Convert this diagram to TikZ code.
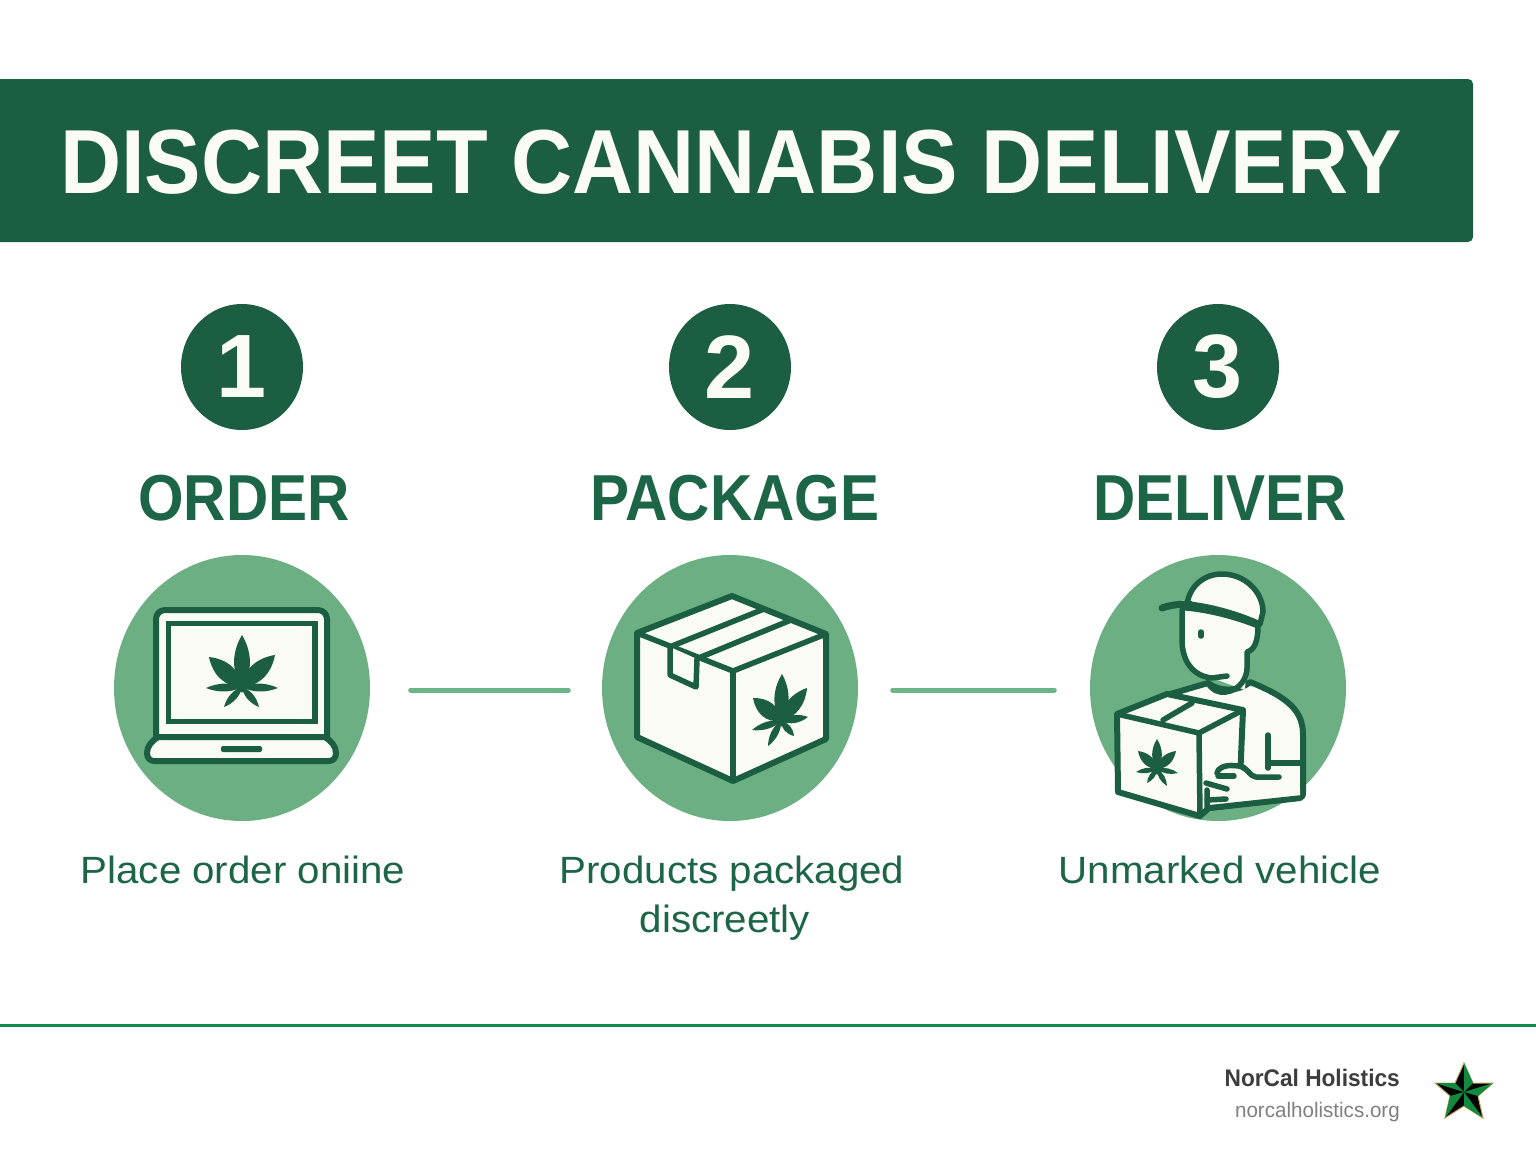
\documentclass[tikz,border=0pt]{standalone}
\usepackage{fontspec}
\setmainfont{Liberation Sans}
\usetikzlibrary{calc,shapes.geometric}
\definecolor{dk}{HTML}{1B5E42}
\definecolor{mid}{HTML}{6CAF82}
\definecolor{paper}{HTML}{FAFBF5}
\definecolor{txt}{HTML}{1C6546}
\definecolor{conn}{HTML}{6DB586}
\definecolor{rule}{HTML}{138A4F}
\definecolor{stargold}{HTML}{C9A45A}
\definecolor{stargreen}{HTML}{128A3E}
\tikzset{
  numdisc/.style={ellipse,fill=dk,text=paper,minimum width=122pt,minimum height=126pt,inner sep=0pt,font=\bfseries\fontsize{90}{90}\selectfont},
  icondisc/.style={ellipse,fill=mid,minimum width=256pt,minimum height=266pt,inner sep=0pt},
  heading/.style={text=txt,inner sep=0pt,font=\bfseries\fontsize{65}{65}\selectfont\addfontfeature{FakeStretch=0.9}},
  caption/.style={text=txt,inner sep=0pt,font=\fontsize{38}{49}\selectfont\addfontfeature{FakeStretch=1.06}},
  linkline/.style={draw=conn,line width=5pt,line cap=round},
  ico/.style={draw=dk,fill=paper,line width=6pt,line join=round,line cap=round},
  icol/.style={draw=dk,line width=5.5pt,line join=round,line cap=round},
}
% leaf: centre, then list of tipdx/tipdy/halfwidth
\newcommand{\leafat}[3]{%
  \fill[dk] (#1,#2) circle (5.5pt);%
  \foreach \dx/\dy/\w in {#3}{%
    \pgfmathsetmacro{\ll}{veclen(\dx,\dy)}%
    \pgfmathsetmacro{\aa}{atan2(-\dx,-\dy)}%
    \fill[dk,shift={(#1,#2)},rotate=\aa]
      (0,0) .. controls (\w*1.25,-.3*\ll) and (\w*1.1,-.68*\ll) .. (0,-\ll)
      .. controls (-\w*1.1,-.68*\ll) and (-\w*1.25,-.3*\ll) .. (0,0) -- cycle;
  }%
}
\begin{document}
\begin{tikzpicture}[x=1pt,y=-1pt]
\useasboundingbox (0,0) rectangle (1536,1154);
\fill[white] (0,0) rectangle (1536,1154);
% banner
\fill[dk,rounded corners=5pt] (-20,79) rectangle (1473,242);
\node[text=paper,inner sep=0pt,anchor=base,font=\bfseries\fontsize{91}{91}\selectfont\addfontfeature{FakeStretch=0.93}] (title) at (731,193) {DISCREET CANNABIS DELIVERY};
% number discs
\node[numdisc] (n1) at (242,367) {\raisebox{-2pt}{1}};
\node[numdisc] (n2) at (730,367) {\raisebox{-2pt}{2}};
\node[numdisc] (n3) at (1218,367) {\raisebox{-2pt}{3}};
% headings
\node[heading,anchor=base] (h1) at (244,520) {ORDER};
\node[heading,anchor=base] (h2) at (735,520) {PACKAGE};
\node[heading,anchor=base] (h3) at (1220,520) {DELIVER};
% icon discs
\node[icondisc] (c1) at (242,688) {};
\node[icondisc] (c2) at (730,688) {};
\node[icondisc] (c3) at (1218,688) {};
% connectors
\draw[linkline,shorten <=40.5pt,shorten >=33.5pt] ([yshift=-2pt]c1.east) -- ([yshift=-2pt]c2.west);
\draw[linkline,shorten <=34.5pt,shorten >=35.5pt] ([yshift=-2pt]c2.east) -- ([yshift=-2pt]c3.west);
% captions
\node[caption,anchor=base] (t1) at (243,883) {Place order oniine};
\node[caption,anchor=base] (t2) at (732,883) {Products packaged};
\node[caption,anchor=base] (t2b) at (725,932) {discreetly};
\node[caption,anchor=base] (t3) at (1220,883) {Unmarked vehicle};
% laptop
\draw[ico,rounded corners=9pt] (156,737) -- (156,610) -- (327,610) -- (327,737);
\draw[icol,fill=paper,line join=miter] (168.5,623.5) rectangle (315,721.5);
\draw[ico] (158,737) -- (325,737) .. controls (331,741) and (336,746) .. (336,753)
  .. controls (336,758) and (333,761) .. (329,761) -- (154,761)
  .. controls (150,761) and (147,758) .. (147,753) .. controls (147,746) and (152,741) .. (158,737) -- cycle;
\fill[dk,rounded corners=2pt] (221,746) rectangle (262,752);
\leafat{242}{687}{0/-52/9, -33/-30/9.5, 33/-32/9.5, -36/1/4.5, 36/1/4.5, -18/20/4, 17/20/4}
% box
\draw[ico] (732,596) -- (826,634) -- (826,739) -- (733,781) -- (637,737) -- (637,633) -- cycle;
\draw[icol] (637,633) -- (733,671) -- (826,634);
\draw[icol] (733,671) -- (733,781);
\draw[icol] (672,646) -- (764,609);
\draw[icol] (701,657) -- (791,620);
\draw[icol,fill=paper] (670,647) -- (670,675) -- (696,687) -- (697,659);
\leafat{781}{721}{1/-47/8, -28/-23/9, 26/-33/8, -29/9/4, 27/-4/4.5, -13/25/4, 13/15/4}
% courier: body
\draw[ico] (1208,683) -- (1167,695) -- (1243,800) -- (1210,808) -- (1300,798)
  .. controls (1303,797) and (1303,795) .. (1303,792) -- (1303,735)
  .. controls (1303,712) and (1290,698) .. (1250,682) .. controls (1238,692) and (1220,692) .. (1208,683) -- cycle;
% head
\fill[paper] (1182,600) -- (1182,640) .. controls (1182,660) and (1192,676) .. (1212,678) -- (1245,690) -- (1247,652) .. controls (1254,650) and (1257,642) .. (1258,620) -- cycle;
\draw[icol] (1182,610) -- (1182,640) .. controls (1182,660) and (1192,676) .. (1212,678) -- (1227,676);
\draw[icol] (1258,626) .. controls (1258,642) and (1254,650) .. (1247,652) -- (1247,668) .. controls (1247,678) and (1240,690) .. (1226,692) .. controls (1218,693) and (1212,690) .. (1208,683);
\draw[icol,line width=5.5pt] (1201,632) -- (1201,636);
% cap
\draw[ico,line width=5.5pt] (1187,604) .. controls (1190,585) and (1205,574) .. (1222,574)
  .. controls (1245,574) and (1263,592) .. (1263,612) -- (1260,624)
  .. controls (1238,614) and (1210,606) .. (1187,604) -- cycle;
\draw[icol,line width=7pt] (1184,607) .. controls (1210,609) and (1238,617) .. (1258,625);
\draw[icol,line width=7pt] (1162,608) .. controls (1170,605) and (1180,604) .. (1190,604);
% arm and sleeve
\draw[icol] (1268,735) -- (1268,768);
\draw[icol] (1270,763) -- (1302,763);
% carried box
\draw[ico] (1167,694) -- (1243,710) -- (1240,780) -- (1200,816) -- (1118,792) -- (1117,714) -- cycle;
\draw[icol] (1117,714) -- (1199,733) -- (1243,710);
\draw[icol] (1199,733) -- (1200,816);
\draw[icol] (1163,720) -- (1192,703);
\leafat{1157}{769}{0/-30/5.5, -19/-18/5.5, 19/-18/5.5, -21/3/3, 21/4/3, -10/14/3, 10/17/3}
% hand
\path[fill=paper] (1206,780) .. controls (1210,770) and (1220,764) .. (1236,766)
  -- (1252,778) -- (1300,790) -- (1300,796) -- (1209,808) -- (1206,800) -- cycle;
\draw[icol] (1217,773) .. controls (1219,765) and (1232,764) .. (1243,767)
  .. controls (1248,770) and (1250,776) .. (1256,777) -- (1279,777);
\draw[icol] (1218,776) -- (1234,776);
\draw[icol] (1206,783) -- (1227,789);
\draw[icol] (1207,800) -- (1226,799);
\draw[icol] (1207,790) -- (1207,808) -- (1300,798);
% footer
\draw[rule,line width=3pt] (0,1025) -- (1536,1025);
\node[anchor=base east,inner sep=0pt,text=black!76,font=\bfseries\fontsize{24}{24}\selectfont\addfontfeature{FakeStretch=0.945}] (brand) at (1400,1086) {NorCal Holistics};
\node[anchor=base east,inner sep=0pt,text=black!50,font=\fontsize{21}{21}\selectfont\addfontfeature{FakeStretch=0.98}] (site) at (1400,1117) {norcalholistics.org};
% star
\begin{scope}[shift={(1464,1092)}]
\coordinate (s0) at (0,-29); \coordinate (s1) at (29,-9); \coordinate (s2) at (19,26);
\coordinate (s3) at (-19,26); \coordinate (s4) at (-29,-9);
\coordinate (i0) at (9,-9); \coordinate (i1) at (14,4); \coordinate (i2) at (0,14);
\coordinate (i3) at (-14,4); \coordinate (i4) at (-9,-9);
\fill[black,draw=stargold,line width=1pt,line join=miter] (s0) -- (i0) -- (s1) -- (i1) -- (s2) -- (i2) -- (s3) -- (i3) -- (s4) -- (i4) -- cycle;
\fill[stargreen] (0,0) -- (s0) -- (i0) -- cycle;
\fill[stargreen] (0,0) -- (s1) -- (i1) -- cycle;
\fill[stargreen] (0,0) -- (s2) -- (i2) -- cycle;
\fill[stargreen] (0,0) -- (s3) -- (i3) -- cycle;
\fill[stargreen] (0,0) -- (s4) -- (i4) -- cycle;
\end{scope}
\end{tikzpicture}
\end{document}
